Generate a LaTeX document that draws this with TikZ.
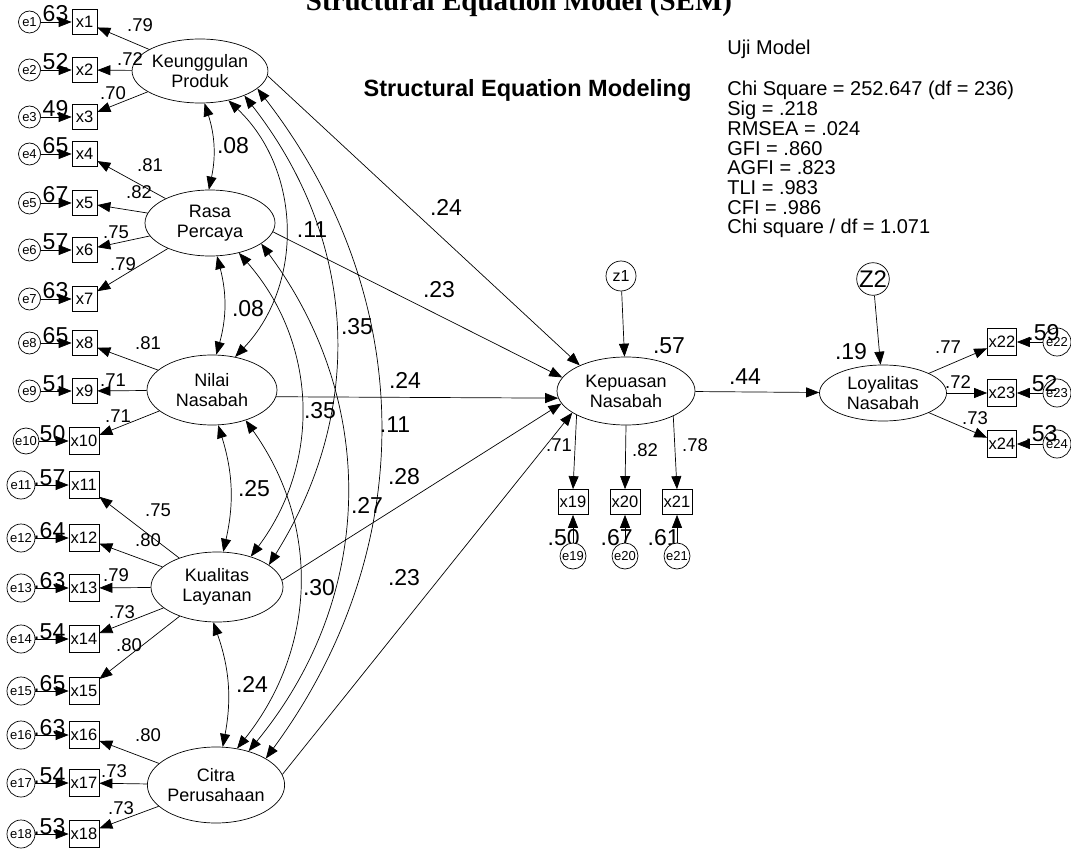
\documentclass[tikz,border=0pt]{standalone}
\usepackage{fontspec}
\setmainfont{Liberation Sans}
\newfontfamily\serifttl{Liberation Serif}
\usetikzlibrary{arrows.meta,shapes.geometric}
\begin{document}
\begin{tikzpicture}[x=1pt,y=-1pt,line width=0.7pt,
  >={Triangle[length=13pt,width=10pt]},
  latent/.style={draw,ellipse,inner sep=0pt,align=center,font=\fontsize{18}{20}\selectfont},
  obs/.style={draw,rectangle,inner sep=0pt,minimum width=25pt,minimum height=25pt,font=\fontsize{16.5}{16.5}\selectfont},
  obsw/.style={obs,minimum width=30pt,minimum height=27pt},
  err/.style={draw,circle,inner sep=0pt,fill=white,font=\fontsize{13}{13}\selectfont},
  lbl/.style={inner sep=0pt,font=\fontsize{18.5}{18.5}\selectfont},
  blbl/.style={inner sep=0pt,font=\fontsize{23}{23}\selectfont},
  fittext/.style={inner sep=0pt,anchor=base west,font=\fontsize{20}{20}\selectfont}]
\useasboundingbox (0,0) rectangle (1071,850);

% titles
\node[inner sep=0pt,anchor=base,font=\serifttl\bfseries\fontsize{29}{29}\selectfont] (title) at (519,11) {Structural Equation Model (SEM)};
\node[inner sep=0pt,anchor=base,font=\bfseries\fontsize{23.5}{23.5}\selectfont] (sub) at (527.5,97) {Structural Equation Modeling};
\node[fittext] (uji) at (727,55) {Uji Model};
\foreach \t [count=\i] in {Chi Square = 252.647 (df = 236),Sig = .218,RMSEA = .024,GFI = .860,AGFI = .823,TLI = .983,CFI = .986,Chi square / df = 1.071}
  \node[fittext] (fit\i) at (727,96+19.7*\i-19.7) {\t};

% latent variables
\node[latent,minimum width=134pt,minimum height=64pt] (F1) at (200,71) {Keunggulan\\Produk};
\node[latent,minimum width=130pt,minimum height=66pt] (F2) at (210,223) {Rasa\\Percaya};
\node[latent,minimum width=130pt,minimum height=70pt] (F3) at (212,390) {Nilai\\Nasabah};
\node[latent,minimum width=132pt,minimum height=70pt] (F4) at (217,587) {Kualitas\\Layanan};
\node[latent,minimum width=132pt,minimum height=76pt] (F5) at (216,785) {Citra\\Perusahaan};
\node[latent,minimum width=138pt,minimum height=68pt] (K) at (626,391) {Kepuasan\\Nasabah};
\node[latent,minimum width=127pt,minimum height=56pt] (L) at (883,393) {Loyalitas\\Nasabah};

% left indicators
\foreach \i/\y in {1/22,2/70,3/117,4/154,5/203,6/250,7/299,8/343,9/391}
  \node[obs] (x\i) at (84.5,\y) {x\i};
\foreach \i/\y in {10/441,11/485,12/538,13/588,14/639,15/691,16/735,17/783,18/834}
  \node[obsw] (x\i) at (84,\y) {x\i};
\foreach \i/\v in {1/.63,2/.52,3/.49,4/.65,5/.67,6/.57,7/.63,8/.65,9/.51,10/.50,11/.57,12/.64,13/.63,14/.54,15/.65,16/.63,17/.54,18/.53}
  \node[blbl,anchor=base east] (v\i) at ([xshift=-3pt]x\i.west) {\v};
\foreach \i/\y in {1/22,2/70,3/117,4/154,5/203,6/250,7/299,8/343,9/391}
  \node[err,minimum size=22pt] (e\i) at (29.5,\y) {e\i};
\node[err,minimum size=26pt] (e10) at (26,441) {e10};
\foreach \i/\y in {11/485,12/538,13/588,14/639,15/691,16/735,17/783,18/834}
  \node[err,minimum size=28pt] (e\i) at (21,\y) {e\i};
\foreach \i in {1,...,18} \draw[->] (e\i) -- (x\i);

% loadings
\foreach \f/\i in {F1/1,F1/2,F1/3,F2/4,F2/5,F2/6,F2/7,F3/8,F3/9,F3/10,F4/11,F4/12,F4/13,F4/14,F4/15,F5/16,F5/17,F5/18}
  \draw[->] (\f) -- (x\i);
\foreach \i/\v/\px/\py in {1/.79/140/25,2/.72/130/59,3/.70/113/93,4/.81/150/165,5/.82/139/192,6/.75/116/232,7/.79/123/264,8/.81/148/343,9/.71/113/380,10/.71/118/416,11/.75/158/510,12/.80/148/540,13/.79/116/575,14/.73/122/612,15/.80/129/645,16/.80/148/735,17/.73/114/771,18/.73/121/808}
  \node[lbl] (ld\i) at (\px,\py) {\v};

% covariances
\draw[<->] (F1.-82) to[bend left=15] (F2.92);
\draw[<->] (F2.-78) to[bend left=15] (F3.83);
\draw[<->] (F3.-80) to[bend left=15] (F4.80);
\draw[<->] (F4.-96) to[bend left=15] (F5.80);
\draw[<->] (F1.-46) to[bend left=45] (F3.55);
\draw[<->] (F1.-29) to[bend left=35] (F4.23);
\draw[<->] (F1.-17) to[bend left=37] (F5.28);
\draw[<->] (F2.-46) to[bend left=39] (F4.42);
\draw[<->] (F2.-22) to[bend left=38] (F5.46);
\draw[<->] (F3.-42) to[bend left=37] (F5.60);
\foreach \v/\px/\py [count=\i] in {.08/233/146,.08/248/309,.25/254/489,.24/252/684,.11/312/230,.35/357/327,.35/320/411,.11/395/425,.27/367/505,.30/319/588}
  \node[blbl] (c\i) at (\px,\py) {\v};

% structural paths
\draw[->] (F1.-4) -- (K.151);
\draw[->] (F2.-8) -- (K.168);
\draw[->] (F3.-6) -- (K.186);
\draw[->] (F4.6) -- (K.191);
\draw[->] (F5.9) -- (K.202);
\foreach \v/\px/\py [count=\i] in {.24/446/207,.23/439/290,.24/405/380,.28/404/477,.23/404/578}
  \node[blbl] (s\i) at (\px,\py) {\v};

% Kepuasan
\node[err,minimum size=30pt,font=\fontsize{16}{16}\selectfont] (z1) at (621,276) {z1};
\draw[->] (z1) -- (K);
\node[blbl] (r1) at (669,346) {.57};
\node[obsw,minimum height=25pt] (x19) at (573,502) {x19};
\node[obsw,minimum height=25pt] (x20) at (625,502) {x20};
\node[obsw,minimum height=25pt] (x21) at (677,502) {x21};
\draw[->] (K.206) -- (x19.north);
\draw[->] (K.south) -- (x20.north);
\draw[->] (K.-28) -- (x21.north);
\node[lbl] (ld19) at (559,445) {.71};
\node[lbl] (ld20) at (645,450) {.82};
\node[lbl] (ld21) at (695,445) {.78};
\node[blbl,anchor=base east] (v19) at (580,545) {.50};
\node[blbl,anchor=base east] (v20) at (633,545) {.67};
\node[blbl,anchor=base east] (v21) at (680,545) {.61};
\node[err,minimum size=26pt] (e19) at (573,556) {e19};
\node[err,minimum size=26pt] (e20) at (625,556) {e20};
\node[err,minimum size=26pt] (e21) at (677,556) {e21};
\draw[->] (e19) -- (x19);
\draw[->] (e20) -- (x20);
\draw[->] (e21) -- (x21);

% Kepuasan -> Loyalitas
\draw[->] (K) -- (L);
\node[blbl] (p44) at (745,377) {.44};
\node[draw,circle,inner sep=0pt,minimum size=29pt,font=\fontsize{24}{24}\selectfont] (z2) at (873,279) {Z2};
\draw[->] (z2) -- (L);
\node[blbl] (r2) at (851,352) {.19};

% Loyalitas indicators
\node[obs,minimum width=29pt,minimum height=27pt] (x22) at (1002,342) {x22};
\node[obs,minimum width=29pt,minimum height=27pt] (x23) at (1002,393) {x23};
\node[obs,minimum width=29pt,minimum height=27pt] (x24) at (1002,444) {x24};
\draw[->] (L) -- (x22);
\draw[->] (L) -- (x23);
\draw[->] (L) -- (x24);
\node[lbl] (ld22) at (948,347) {.77};
\node[lbl] (ld23) at (958,382) {.72};
\node[lbl] (ld24) at (975,418) {.73};
\node[draw,circle,inner sep=0pt,minimum size=28pt,font=\fontsize{13}{13}\selectfont] (e22) at (1057,342) {e22};
\node[draw,circle,inner sep=0pt,minimum size=28pt,font=\fontsize{13}{13}\selectfont] (e23) at (1057,393) {e23};
\node[draw,circle,inner sep=0pt,minimum size=28pt,font=\fontsize{13}{13}\selectfont] (e24) at (1057,444) {e24};
\draw[->] (e22) -- (x22);
\draw[->] (e23) -- (x23);
\draw[->] (e24) -- (x24);
\node[blbl,anchor=base west] (v22) at (1027,341) {.59};
\node[blbl,anchor=base west] (v23) at (1025,391) {.52};
\node[blbl,anchor=base west] (v24) at (1025,441) {.53};
\end{tikzpicture}
\end{document}
